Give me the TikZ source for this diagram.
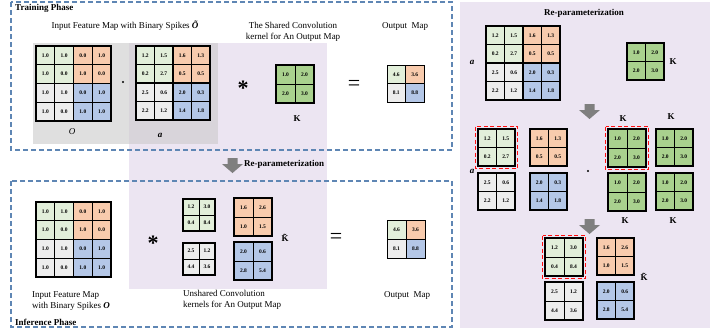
\documentclass[tikz,border=0pt]{standalone}
\usepackage{fontspec}
\setmainfont{Liberation Serif}
\definecolor{lgreen}{HTML}{E2EFDA}
\definecolor{lorange}{HTML}{F8CBAD}
\definecolor{lgray}{HTML}{EDEDED}
\definecolor{lblue}{HTML}{B4C7E7}
\definecolor{kgreen}{HTML}{A9D18E}
\definecolor{lav}{HTML}{ECE5F2}
\definecolor{gbg}{HTML}{DFDFDF}
\definecolor{govl}{HTML}{D8D4DA}
\definecolor{dashblue}{HTML}{5E86B4}
\definecolor{arrgray}{HTML}{7F7F7F}
\definecolor{redd}{HTML}{FF1010}
\tikzset{
  cell/.style={draw=black, line width=0.8pt, inner sep=0pt, outer sep=0pt, anchor=north west,
    font=\fontsize{5.5}{6}\selectfont\bfseries},
  blkborder/.style={draw=black, line width=1.3pt},
  phasebox/.style={draw=dashblue, line width=1.1pt, dash pattern=on 5pt off 3pt},
  reddash/.style={draw=redd, line width=1.2pt, dash pattern=on 4pt off 2.5pt},
  lbl/.style={font=\fontsize{9}{11}\selectfont, inner sep=0pt},
  blbl/.style={font=\fontsize{9}{11}\selectfont\bfseries, inner sep=0pt},
  opsym/.style={inner sep=0pt, font=\fontsize{22}{22}\selectfont},
  astsym/.style={inner sep=0pt, font=\fontsize{22}{22}\selectfont\bfseries},
  blockarrow/.style={fill=arrgray},
}
% name, x, y, cell size, colour, four values
\newcommand\qblk[9]{%
  \node[cell,fill=#5,minimum size=#4pt] (#1a) at (#2,#3) {#6};
  \node[cell,fill=#5,minimum size=#4pt] (#1b) at (#1a.north east) {#7};
  \node[cell,fill=#5,minimum size=#4pt] (#1c) at (#1a.south west) {#8};
  \node[cell,fill=#5,minimum size=#4pt] (#1d) at (#1a.south east) {#9};
  \draw[blkborder] (#1a.north west) rectangle (#1d.south east);
}
% name, x, y, cell size
\newcommand\omap[4]{%
  \node[cell,fill=lgreen,minimum size=#4pt] (#1a) at (#2,#3) {4.6};
  \node[cell,fill=lorange,minimum size=#4pt] (#1b) at (#1a.north east) {3.6};
  \node[cell,fill=lgray,minimum size=#4pt] (#1c) at (#1a.south west) {8.1};
  \node[cell,fill=lblue,minimum size=#4pt] (#1d) at (#1a.south east) {8.8};
}
% x left, y top
\newcommand\downarr[2]{%
  \fill[blockarrow] ({#1+5.5},{#2}) -- ({#1+15.5},{#2}) -- ({#1+15.5},{#2+6}) -- ({#1+21},{#2+6})
    -- ({#1+10.5},{#2+15}) -- ({#1},{#2+6}) -- ({#1+5.5},{#2+6}) -- cycle;
}
\begin{document}
\begin{tikzpicture}[x=1pt,y=-1pt]
\useasboundingbox (0,0) rectangle (712,333);
% backgrounds
\fill[lav] (460,2) rectangle (710,328);
\fill[lav] (129,43) rectangle (327,289);
\fill[gbg] (33,43) rectangle (129,144);
\fill[govl] (129,43) rectangle (218,144);
\draw[phasebox] (11,2) rectangle (452,150);
\draw[phasebox] (11,181) rectangle (452,327);

% ---------- Training phase ----------
\node[blbl,anchor=west] (trainlbl) at (15,8) {Training Phase};
\node[lbl] (tinlbl) at (125,26) {Input Feature Map with Binary Spikes \textbf{\textit{Õ}}};
\node[lbl,align=center] (tklbl) at (293,31.5) {The Shared Convolution\\kernel for An Output Map};
\node[lbl] (toutlbl) at (405,26) {Output\ \ Map};

\qblk{tOA}{36}{46}{18.75}{lgreen}{1.0}{1.0}{1.0}{0.0}
\qblk{tOB}{73.5}{46}{18.75}{lorange}{0.0}{1.0}{1.0}{0.0}
\qblk{tOC}{36}{83.5}{18.75}{lgray}{1.0}{1.0}{1.0}{0.0}
\qblk{tOD}{73.5}{83.5}{18.75}{lblue}{0.0}{1.0}{1.0}{1.0}
\node[lbl] (tOname) at (72,132) {\textit{O}};
\fill (123,82) circle (1.2pt);

\qblk{taA}{136}{46}{18.5}{lgreen}{1.2}{1.5}{0.2}{2.7}
\qblk{taB}{173}{46}{18.5}{lorange}{1.6}{1.3}{0.5}{0.5}
\qblk{taC}{136}{83}{18.5}{lgray}{2.5}{0.6}{2.2}{1.2}
\qblk{taD}{173}{83}{18.5}{lblue}{2.0}{0.3}{1.4}{1.8}
\node[lbl] (taname) at (160,135) {\textbf{\textit{a}}};

\node[astsym] (tconv) at (243,88) {*};
\qblk{tK}{276}{65}{19}{kgreen}{1.0}{2.0}{2.0}{3.0}
\node[blbl] (tKname) at (297,119) {K};
\node[opsym] (teq) at (354,85) {=};
\omap{tOut}{387}{65}{18.5}

% ---------- Re-parameterization arrow ----------
\downarr{222}{158}
\node[blbl,anchor=west] (reparlbl) at (244,164) {Re-parameterization};

% ---------- Inference phase ----------
\qblk{iOA}{36}{202}{18.75}{lgreen}{1.0}{1.0}{1.0}{0.0}
\qblk{iOB}{73.5}{202}{18.75}{lorange}{0.0}{1.0}{1.0}{0.0}
\qblk{iOC}{36}{239.5}{18.75}{lgray}{1.0}{1.0}{1.0}{0.0}
\qblk{iOD}{73.5}{239.5}{18.75}{lblue}{0.0}{1.0}{1.0}{1.0}
\node[lbl,align=left,anchor=west] (iinlbl) at (32,301) {Input Feature Map\\with Binary Spikes \textbf{\textit{O}}};

\node[astsym] (iconv) at (153,243) {*};
\qblk{uG}{183}{199}{16}{lgreen}{1.2}{3.0}{0.4}{8.4}
\qblk{uW}{183}{243}{16}{lgray}{2.5}{1.2}{4.4}{3.6}
\qblk{uO}{234}{198}{19}{lorange}{1.6}{2.6}{1.0}{1.5}
\qblk{uB}{234}{242}{19}{lblue}{2.0}{0.6}{2.8}{5.4}
\node[blbl] (iKname) at (285,238) {\~{K}};
\node[lbl,align=left,anchor=west] (iklbl) at (183,299.5) {Unshared Convolution\\kernels for An Output Map};

\node[opsym] (ieq) at (336,238) {=};
\omap{iOut}{387}{220}{19}
\node[lbl] (ioutlbl) at (407,295) {Output\ \ Map};
\node[blbl,anchor=west] (inflbl) at (15,322) {Inference Phase};

% ---------- Right panel ----------
\node[blbl] (rtitle) at (584,13) {Re-parameterization};
\qblk{raA}{486}{26}{18.5}{lgreen}{1.2}{1.5}{0.2}{2.7}
\qblk{raB}{523}{26}{18.5}{lorange}{1.6}{1.3}{0.5}{0.5}
\qblk{raC}{486}{63}{18.5}{lgray}{2.5}{0.6}{2.2}{1.2}
\qblk{raD}{523}{63}{18.5}{lblue}{2.0}{0.3}{1.4}{1.8}
\node[lbl] (raname) at (472,62) {\textbf{\textit{a}}};
\qblk{rK}{627}{43}{18.5}{kgreen}{1.0}{2.0}{2.0}{3.0}
\node[blbl] (rKname) at (673,62) {K};

\downarr{579}{104}

\qblk{sG}{478}{129}{18.5}{lgreen}{1.2}{1.5}{0.2}{2.7}
\qblk{sO}{530}{129}{18.5}{lorange}{1.6}{1.3}{0.5}{0.5}
\qblk{sW}{478}{173}{18.5}{lgray}{2.5}{0.6}{2.2}{1.2}
\qblk{sB}{530}{173}{18.5}{lblue}{2.0}{0.3}{1.4}{1.8}
\draw[reddash] ([xshift=-2.5pt,yshift=2.5pt]sGa.north west) rectangle ([xshift=2.5pt,yshift=-2.5pt]sGd.south east);
\node[lbl] (saname) at (472,171) {\textbf{\textit{a}}};
\fill (588,171) circle (1.2pt);

\qblk{sKa}{608}{129}{19}{kgreen}{1.0}{2.0}{2.0}{3.0}
\qblk{sKb}{656}{129}{18.5}{kgreen}{1.0}{2.0}{2.0}{3.0}
\qblk{sKc}{608}{173}{19}{kgreen}{1.0}{2.0}{2.0}{3.0}
\qblk{sKd}{656}{173}{18.5}{kgreen}{1.0}{2.0}{2.0}{3.0}
\draw[reddash] ([xshift=-2.5pt,yshift=2.5pt]sKaa.north west) rectangle ([xshift=2.5pt,yshift=-2.5pt]sKad.south east);
\node[blbl] (sKaname) at (623,119) {K};
\node[blbl] (sKbname) at (671,117) {K};
\node[blbl] (sKcname) at (625,221) {K};
\node[blbl] (sKdname) at (673,221) {K};

\downarr{579}{219}

\qblk{kG}{545}{238}{19}{lgreen}{1.2}{3.0}{0.4}{8.4}
\qblk{kO}{597}{238}{18.5}{lorange}{1.6}{2.6}{1.0}{1.5}
\qblk{kW}{545}{282}{19}{lgray}{2.5}{1.2}{4.4}{3.6}
\qblk{kB}{597}{282}{18.5}{lblue}{2.0}{0.6}{2.8}{5.4}
\draw[reddash] ([xshift=-2.5pt,yshift=2.5pt]kGa.north west) rectangle ([xshift=2.5pt,yshift=-2.5pt]kGd.south east);
\node[blbl] (kKname) at (644,277) {\~{K}};
\end{tikzpicture}
\end{document}
